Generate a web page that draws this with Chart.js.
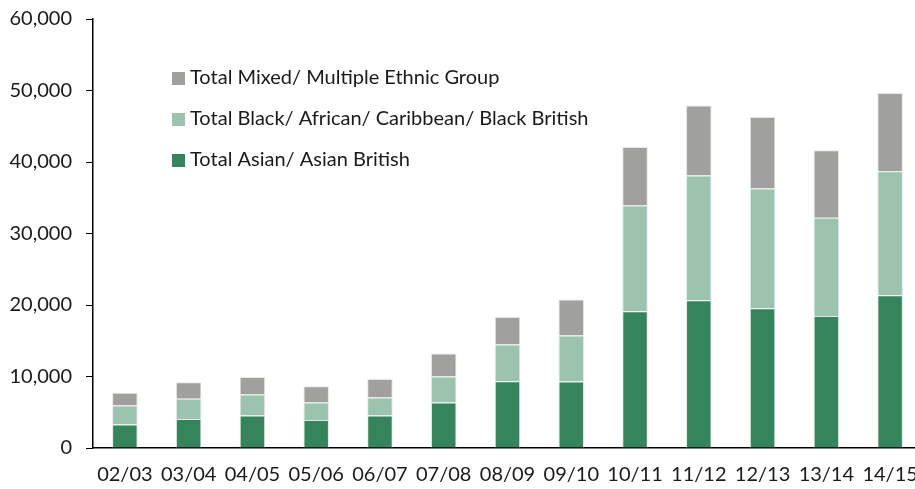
<!DOCTYPE html>
<html>
<head>
<meta charset="utf-8">
<script src="https://cdn.jsdelivr.net/npm/chart.js@4/dist/chart.umd.min.js"></script>
<style>
  html, body { margin: 0; padding: 0; background: #fff; overflow: hidden; }
  #wrap { position: relative; width: 925px; height: 489px; }
</style>
</head>
<body>
<div id="wrap"><canvas id="myChart"></canvas></div>
<script>
const years = ['02/03', '03/04', '04/05', '05/06', '06/07', '07/08', '08/09', '09/10', '10/11', '11/12', '12/13', '13/14', '14/15'];
const asian = [3300, 4050, 4530, 3920, 4530, 6350, 9330, 9290, 19120, 20660, 19540, 18460, 21360];
const black = [2650, 2850, 2940, 2430, 2520, 3640, 5130, 6430, 14780, 17440, 16740, 13760, 17340];
const mixed = [1780, 2280, 2460, 2280, 2600, 3220, 3860, 5040, 8200, 9790, 10010, 9410, 10950];
const yTicks = [0, 10000, 20000, 30000, 40000, 50000, 60000];

const FONT = 'Lato';

// legend drawn inside the plot area, top entry = top of stack
const insideLegend = {
  id: 'insideLegend',
  afterDraw(chart) {
    const ctx = chart.ctx;
    const area = chart.chartArea;
    const sets = chart.data.datasets.slice().reverse();
    ctx.save();
    ctx.font = '20px ' + FONT;
    ctx.textBaseline = 'middle';
    ctx.textAlign = 'left';
    sets.forEach((ds, i) => {
      const y = area.top + 59 + i * 41;
      ctx.fillStyle = ds.backgroundColor;
      ctx.fillRect(area.left + 79, y - 6, 13, 13);
      ctx.fillStyle = '#1a1a1a';
      ctx.fillText(ds.label, area.left + 97, y);
    });
    ctx.restore();
  }
};

const ctx = document.getElementById('myChart');

new Chart(ctx, {
  type: 'bar',
  data: {
    labels: years,
    datasets: [
      { label: 'Total Asian/ Asian British', data: asian, backgroundColor: '#36845b' },
      { label: 'Total Black/ African/ Caribbean/ Black British', data: black, backgroundColor: '#9bc3ae' },
      { label: 'Total Mixed/ Multiple Ethnic Group', data: mixed, backgroundColor: '#a0a09f' }
    ]
  },
  options: {
    responsive: true,
    maintainAspectRatio: false,
    animation: false,
    layout: { padding: { left: 0, top: 19, right: 3, bottom: 0 } },
    datasets: {
      bar: {
        categoryPercentage: 1,
        barPercentage: 0.4,
        borderColor: '#e6e6e6',
        borderWidth: { top: 1, left: 1, right: 1, bottom: 0 }
      }
    },
    scales: {
      x: {
        stacked: true,
        grid: { display: false, drawTicks: false },
        border: { color: '#000', width: 1.5 },
        ticks: { color: '#1a1a1a', font: { family: FONT, size: 20 }, padding: 15, maxRotation: 0 },
        afterFit(scale) {
          scale.height = 41;
          scale.paddingLeft = 0;
          scale.paddingRight = 0;
        }
      },
      y: {
        stacked: true,
        min: 0,
        max: 60000,
        afterBuildTicks(scale) {
          scale.ticks = yTicks.map(v => ({ value: v }));
        },
        grid: { drawOnChartArea: false, tickLength: 7, color: '#000' },
        border: { color: '#000', width: 1.5 },
        ticks: {
          color: '#1a1a1a',
          font: { family: FONT, size: 20 },
          padding: 14,
          callback: v => v.toLocaleString('en-GB')
        },
        afterFit(scale) {
          scale.width = 93;
          scale.paddingTop = 0;
          scale.paddingBottom = 0;
        }
      }
    },
    plugins: {
      legend: { display: false },
      tooltip: { enabled: false }
    }
  },
  plugins: [insideLegend]
});
</script>
</body>
</html>
